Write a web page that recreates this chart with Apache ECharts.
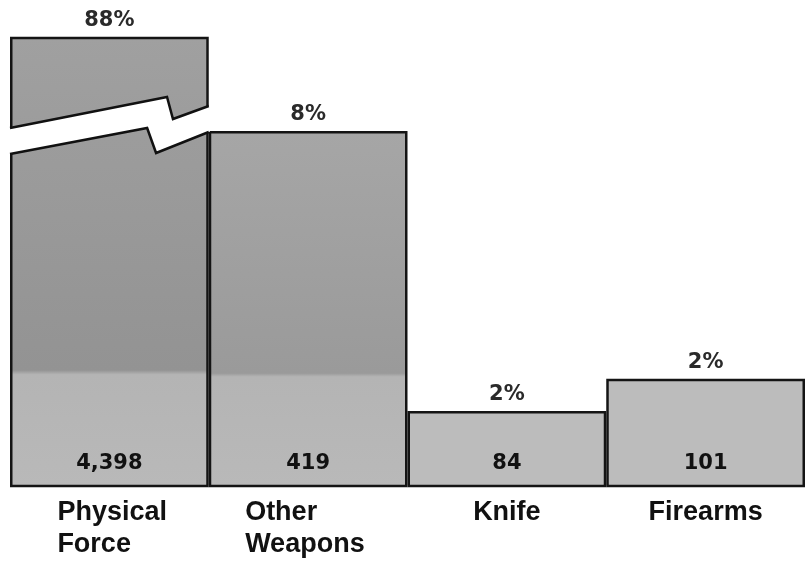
<!DOCTYPE html>
<html>
<head>
<meta charset="utf-8">
<script src="https://cdn.jsdelivr.net/npm/echarts@6/dist/echarts.min.js"></script>
<style>
  html, body { margin: 0; padding: 0; background: #fff; }
  #main { width: 805px; height: 565px; }
</style>
</head>
<body>
<div id="main"></div>
<script>
var categories = ['Physical\nForce', 'Other\nWeapons', 'Knife', 'Firearms'];
var counts = [4398, 419, 84, 101];
var shares = ['88%', '8%', '2%', '2%'];
// bar heights in the picture follow a log scale; first bar runs off the top
var axisMin = 54.6, axisMax = 714;
var brokenBar = 0;

var chart = echarts.init(document.getElementById('main'));

var numFont = { fontFamily: 'DejaVu Sans', fontWeight: 'bold', fontSize: 21 };

function barFill(params) {
  var i = params.dataIndex;
  if (i > 1) return '#bcbcbc';
  var cut = i === 0 ? 0.75 : 0.69;
  return new echarts.graphic.LinearGradient(0, 0, 0, 1, [
    { offset: 0, color: i === 0 ? '#a0a0a0' : '#a6a6a6' },
    { offset: cut - 0.01, color: i === 0 ? '#939393' : '#9a9a9a' },
    { offset: cut, color: '#b4b4b4' },
    { offset: 1, color: '#b9b9b9' }
  ]);
}

// white gap + zigzag edges across the broken bar
function renderBreak(params, api) {
  var cs = params.coordSys;
  var cx = api.coord([api.value(0), api.value(1)])[0];
  var w = api.size([1, 0])[0];
  var x0 = cx - w / 2, top = cs.y;
  function pt(fx, dy) { return [x0 + fx * w, top + dy]; }
  var upper = [pt(0, 90), pt(0.79, 59), pt(0.82, 81), pt(1, 68)];
  var lower = [pt(0, 116), pt(0.69, 90), pt(0.735, 115), pt(1, 94)];
  var gap = [[x0 - 4, upper[0][1]]].concat(upper, [[x0 + w + 1, upper[3][1]], [x0 + w + 1, lower[3][1]]],
    lower.slice().reverse(), [[x0 - 4, lower[0][1]]]);
  var edge = { stroke: '#111', lineWidth: 2.5, fill: null, lineJoin: 'miter' };
  return {
    type: 'group',
    children: [
      { type: 'polygon', shape: { points: gap }, style: { fill: '#fff' } },
      { type: 'polyline', shape: { points: upper }, style: edge },
      { type: 'polyline', shape: { points: lower }, style: edge }
    ]
  };
}

var option = {
  animation: false,
  grid: { left: 10, right: 0, top: 38, bottom: 79 },
  xAxis: {
    type: 'category',
    data: categories,
    axisLine: { show: false },
    axisTick: { show: false },
    axisLabel: {
      interval: 0,
      margin: 11,
      color: '#111',
      fontFamily: 'Liberation Sans',
      fontWeight: 'bold',
      fontSize: 27,
      lineHeight: 32,
      formatter: function (v, i) {
        var lines = v.split('\n');
        if (lines.length === 1) return v;
        var s = i === 0 ? 'p' : 'o';
        return lines.map(function (l) { return '{' + s + '|' + l + '}'; }).join('\n');
      },
      rich: {
        p: { width: 104, align: 'left', fontFamily: 'Liberation Sans', fontWeight: 'bold', fontSize: 27, lineHeight: 32, color: '#111' },
        o: { width: 126, align: 'left', fontFamily: 'Liberation Sans', fontWeight: 'bold', fontSize: 27, lineHeight: 32, color: '#111' }
      }
    }
  },
  yAxis: {
    type: 'log',
    min: axisMin,
    max: axisMax,
    show: false,
    splitLine: { show: false }
  },
  series: [
    {
      type: 'bar',
      data: counts,
      clip: true,
      barCategoryGap: 0,
      barGap: '-100%',
      itemStyle: { color: barFill, borderColor: '#141414', borderWidth: 2.5 },
      label: {
        show: true,
        position: 'top',
        distance: 6,
        color: '#2a2a2a',
        fontFamily: numFont.fontFamily, fontWeight: numFont.fontWeight, fontSize: numFont.fontSize,
        formatter: function (p) { return shares[p.dataIndex]; }
      }
    },
    {
      type: 'bar',
      data: counts,
      clip: true,
      barCategoryGap: 0,
      barGap: '-100%',
      silent: true,
      itemStyle: { color: 'rgba(0,0,0,0)', borderWidth: 0 },
      label: {
        show: true,
        position: 'insideBottom',
        distance: 12,
        color: '#111',
        fontFamily: numFont.fontFamily, fontWeight: numFont.fontWeight, fontSize: numFont.fontSize,
        formatter: function (p) { return p.value.toLocaleString('en-US'); }
      }
    },
    {
      type: 'custom',
      silent: true,
      z: 5,
      data: [[categories[brokenBar], counts[brokenBar]]],
      encode: { x: 0, y: 1 },
      renderItem: renderBreak
    }
  ]
};
chart.setOption(option);
</script>
</body>
</html>
